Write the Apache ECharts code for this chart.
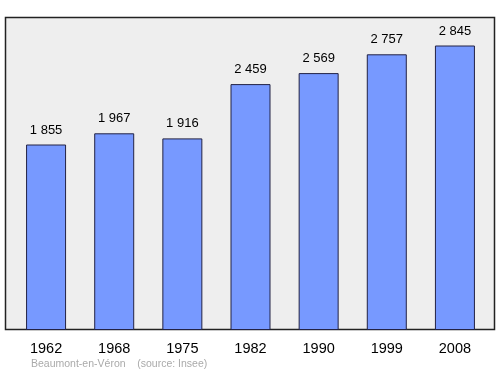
<!DOCTYPE html>
<html><head><meta charset="utf-8">
<script src="https://cdn.jsdelivr.net/npm/echarts@6/dist/echarts.min.js"></script>
<style>html,body{margin:0;padding:0;background:#fff}#c{width:500px;height:374px}</style>
</head><body><div id="c"></div>
<script>
const categories = ["1962","1968","1975","1982","1990","1999","2008"];
const population = [1855,1967,1916,2459,2569,2757,2845];
const footer = "Beaumont-en-Véron    (source: Insee)";

const chart = echarts.init(document.getElementById('c'), null, {renderer:'canvas'});
function fmt(v){ return String(v).replace(/\B(?=(\d{3})+(?!\d))/g, ' '); }
const FF = '"Liberation Sans", Arial, sans-serif';
chart.setOption({
  animation:false,
  graphic:[
    {type:'rect', z:-10, shape:{x:5.5,y:17.5,width:489,height:312}, style:{fill:'#eeeeee', stroke:'#222', lineWidth:1.5}},
    {type:'text', left:31, top:359, style:{text:footer, fill:'#aaaaaa', font:'10.5px "Liberation Sans", Arial, sans-serif'}}
  ],
  grid:{left:12, right:11, top:17, bottom:44},
  xAxis:{type:'category', data:categories, axisLine:{show:false}, axisTick:{show:false},
    axisLabel:{color:'#000', fontSize:14.5, fontFamily:FF, margin:11}},
  yAxis:{type:'value', min:0, max:3130, show:false, splitLine:{show:false}},
  series:[{type:'bar', data:population, barWidth:40,
    itemStyle:{color:'#7799ff', borderColor:'#222244', borderWidth:1},
    label:{show:true, position:'top', distance:8, color:'#000', fontSize:13,
      fontFamily:FF, formatter:p=>fmt(p.value)}}]
});
</script></body></html>
